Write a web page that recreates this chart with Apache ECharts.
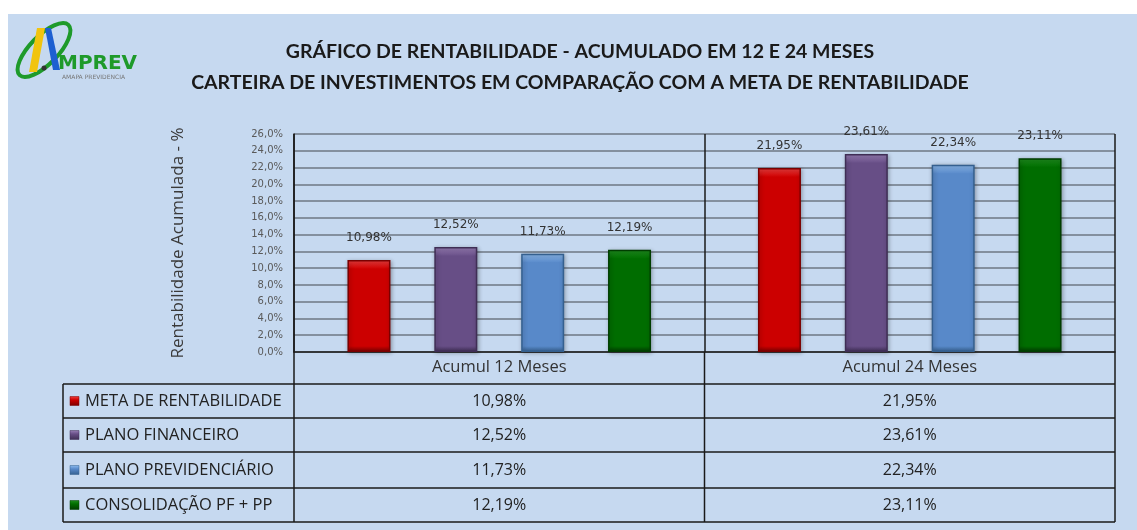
<!DOCTYPE html>
<html>
<head>
<meta charset="utf-8">
<script src="https://cdn.jsdelivr.net/npm/echarts@6/dist/echarts.min.js"></script>
<style>
  html, body { margin:0; padding:0; background:#fff; }
  #chart { width:1137px; height:530px; }
</style>
</head>
<body>
<div id="chart"></div>
<script>
// dados
var categorias = ['Acumul 12 Meses', 'Acumul 24 Meses'];
var nomes = ['META DE RENTABILIDADE', 'PLANO FINANCEIRO', 'PLANO PREVIDENCIÁRIO', 'CONSOLIDAÇÃO PF + PP'];
var meta = [10.98, 21.95];
var financeiro = [12.52, 23.61];
var previdenciario = [11.73, 22.34];
var consolidacao = [12.19, 23.11];
var cores = ['#cc0000', '#674e86', '#5889c9', '#006d00'];
var coresEscuras = ['#7a0000', '#3f2e55', '#35608f', '#003d00'];
var coresClaras = ['#f24040', '#9a80b8', '#8ebcef', '#1f8f1f'];

var valores = [meta, financeiro, previdenciario, consolidacao];

function pct(v, d) {
  return v.toFixed(d).replace('.', ',') + '%';
}

var chart = echarts.init(document.getElementById('chart'));

// layout
var gLeft = 294, gRight = 1115, gTop = 134, gBottom = 352;
var tabLeft = 63;
var linhas = [352, 384, 418, 452, 488, 522];
var pxPorUnidade = (gBottom - gTop) / 26;

var graphic = [];
// fundo azul
graphic.push({ type:'rect', z:-10, shape:{x:8, y:14, width:1129, height:516}, style:{fill:'#c6d9f0'} });

// logo
graphic.push({ type:'ellipse', shape:{cx:44, cy:50, rx:35, ry:14}, rotation:0.8, originX:44, originY:50,
  style:{fill:'none', stroke:'#1e9a2a', lineWidth:4} });
graphic.push({ type:'polygon', shape:{points:[[37,28],[45,28],[37,72],[29,72]]}, style:{fill:'#f1c40f'} });
graphic.push({ type:'polygon', shape:{points:[[45,28],[51,28],[60,70],[53,70]]}, style:{fill:'#1d5fd1'} });
graphic.push({ type:'circle', shape:{cx:44, cy:68, r:2.5}, style:{fill:'#333'} });
graphic.push({ type:'text', x:58, y:54, style:{text:'MPREV', fill:'#1e9a2a', font:'bold 20px "DejaVu Sans"'} });
graphic.push({ type:'text', x:62, y:74, style:{text:'AMAPA PREVIDENCIA', fill:'#777', font:'6px "DejaVu Sans"'} });

// titulo
graphic.push({ type:'text', x:580, y:52, style:{text:'GRÁFICO DE RENTABILIDADE - ACUMULADO EM 12 E 24 MESES',
  fill:'#1a1a1a', font:'bold 19.5px Lato', align:'center', verticalAlign:'middle'} });
graphic.push({ type:'text', x:580, y:83, style:{text:'CARTEIRA DE INVESTIMENTOS EM COMPARAÇÃO COM A META DE RENTABILIDADE',
  fill:'#1a1a1a', font:'bold 19.5px Lato', align:'center', verticalAlign:'middle'} });

// tabela
var midX = (gLeft + gRight) / 2;
for (var i = 1; i < linhas.length; i++) {
  graphic.push({ type:'line', z:5, shape:{x1:tabLeft, y1:linhas[i], x2:gRight, y2:linhas[i]}, style:{stroke:'#1a1a1a', lineWidth:1.5} });
}
graphic.push({ type:'line', z:5, shape:{x1:tabLeft, y1:linhas[1], x2:tabLeft, y2:linhas[5]}, style:{stroke:'#1a1a1a', lineWidth:1.5} });
[gLeft, midX, gRight].forEach(function(x){
  graphic.push({ type:'line', z:5, shape:{x1:x, y1:linhas[0], x2:x, y2:linhas[5]}, style:{stroke:'#1a1a1a', lineWidth:1.5} });
});
var colX = [(gLeft + midX) / 2, (midX + gRight) / 2];
nomes.forEach(function(n, s){
  var cy = (linhas[s+1] + linhas[s+2]) / 2;
  graphic.push({ type:'rect', z:6, shape:{x:70, y:cy-4.5, width:9, height:9},
    style:{fill:{type:'linear', x:0, y:0, x2:0, y2:1, colorStops:[{offset:0, color:coresClaras[s]},{offset:0.4, color:cores[s]},{offset:1, color:coresEscuras[s]}]},
      stroke:coresEscuras[s], lineWidth:0.5} });
  graphic.push({ type:'text', z:6, x:85, y:cy, style:{text:n, fill:'#222', font:'16.5px "Open Sans"', verticalAlign:'middle'} });
  valores[s].forEach(function(v, c){
    graphic.push({ type:'text', z:6, x:colX[c], y:cy, style:{text:pct(v, 2), fill:'#222', font:'16px "Open Sans"', align:'center', verticalAlign:'middle'} });
  });
});

// gradiente vertical com chanfro claro no topo
function estiloBarra(s, v) {
  var h = v * pxPorUnidade;
  var topo = Math.min(9 / h, 0.3);
  var base = 1 - Math.min(6 / h, 0.2);
  return {
    color: {type:'linear', x:0, y:0, x2:0, y2:1, colorStops:[
      {offset:0, color:coresClaras[s]},
      {offset:topo, color:cores[s]},
      {offset:base, color:cores[s]},
      {offset:1, color:coresEscuras[s]}
    ]},
    borderColor: coresEscuras[s],
    borderWidth: 1.5,
    shadowColor: 'rgba(0,0,0,0.3)',
    shadowBlur: 4,
    shadowOffsetX: 1,
    shadowOffsetY: 1
  };
}

var series = nomes.map(function(n, s){
  return {
    name: n,
    type: 'bar',
    data: valores[s].map(function(v){ return { value: v, itemStyle: estiloBarra(s, v) }; }),
    barWidth: 43,
    barGap: '102%',
    label: {
      show: true,
      position: 'top',
      distance: 16,
      color: '#333',
      fontFamily: 'DejaVu Sans',
      fontSize: 12,
      formatter: function(p){ return pct(p.value, 2); }
    }
  };
});

var option = {
  backgroundColor: '#ffffff',
  animation: false,
  grid: { left: gLeft, right: 1137 - gRight, top: gTop, bottom: 530 - gBottom },
  xAxis: {
    type: 'category',
    data: categorias,
    axisLine: { lineStyle: { color: '#1a1a1a', width: 1.5 } },
    axisTick: { show: false },
    splitLine: { show: true, lineStyle: { color: '#1a1a1a', width: 1.5 } },
    axisLabel: { color: '#333', fontSize: 16.5, fontFamily: 'Open Sans', margin: 7 }
  },
  yAxis: {
    type: 'value',
    min: 0,
    max: 26,
    interval: 2,
    name: 'Rentabilidade Acumulada - %',
    nameLocation: 'middle',
    nameGap: 107,
    nameTextStyle: { color: '#3a3a3a', fontSize: 17, fontFamily: 'Open Sans' },
    axisLine: { show: true, lineStyle: { color: '#1a1a1a', width: 1.5 } },
    axisTick: { show: false },
    axisLabel: { color: '#595959', fontSize: 10, fontFamily: 'DejaVu Sans', margin: 11,
      formatter: function(v){ return pct(v, 1); } },
    splitLine: { show: true, lineStyle: { color: '#6e7785', width: 1.5 } }
  },
  graphic: graphic,
  series: series
};
chart.setOption(option);
</script>
</body>
</html>
